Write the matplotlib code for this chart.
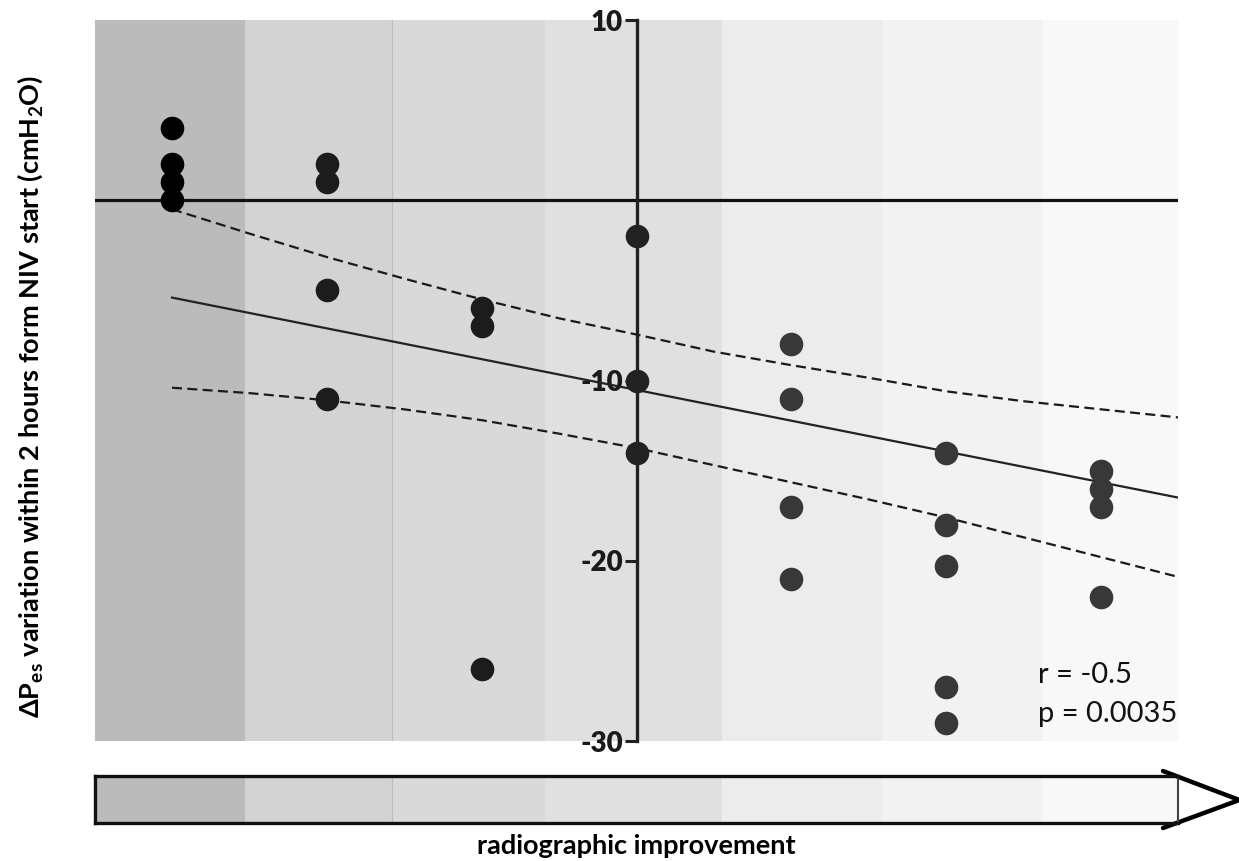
import matplotlib

matplotlib.use("Agg")
import matplotlib.pyplot as plt

plt.rcParams["font.family"] = ["Lato", "DejaVu Sans"]
plt.rcParams["mathtext.fontset"] = "custom"
plt.rcParams["mathtext.rm"] = "Lato:bold"
plt.rcParams["mathtext.it"] = "Lato:bold"
plt.rcParams["mathtext.bf"] = "Lato:bold"

# radiographic improvement groups (x) and delta Pes values
GROUPS = [1, 2, 3, 4, 5, 6, 7]
GROUP_VALUES = [
    [4.0, 2.0, 1.0, 0.0],
    [2.0, 1.0, -5.0, -11.0],
    [-6.0, -7.0, -26.0],
    [-2.0, -10.0, -14.0],
    [-8.0, -11.0, -17.0, -21.0],
    [-14.0, -18.0, -20.3, -27.0, -29.0],
    [-15.0, -16.0, -17.0, -22.0],
]
GROUP_COLORS = ["#000000", "#1c1c1c", "#1c1c1c", "#222222", "#383838", "#383838", "#383838"]

# regression line and its confidence band (as drawn)
FIT_X = [1.0, 7.5]
FIT_Y = [-5.4, -16.5]
BAND_X = [1.0, 1.5, 2.0, 2.5, 3.0, 3.5, 4.0, 4.5, 5.0, 5.5, 6.0, 6.5, 7.0, 7.5]
BAND_UPPER = [-0.5, -1.85, -3.15, -4.35, -5.5, -6.55, -7.45, -8.4, -9.15, -9.85, -10.6, -11.15, -11.6, -12.05]
BAND_LOWER = [-10.4, -10.7, -11.1, -11.6, -12.2, -12.95, -13.75, -14.7, -15.65, -16.6, -17.6, -18.7, -19.8, -20.9]

# background shading columns
SHADE_EDGES = [0.5, 1.472, 2.421, 3.410, 4.553, 5.587, 6.620, 7.5]
SHADE_COLORS = ["#bbbbbb", "#d3d3d3", "#d9d9d9", "#e0e0e0", "#ececec", "#f2f2f2", "#f8f8f8"]

Y_TICKS = [10, -10, -20, -30]
STATS_TEXT = ["r = -0.5", "p = 0.0035"]

YLABEL = r"ΔP$_{\rm es}$ variation within 2 hours form NIV start (cmH$_{\rm 2}$O)"
XLABEL = "radiographic improvement"


def _shade(ax):
    for left, right, color in zip(SHADE_EDGES[:-1], SHADE_EDGES[1:], SHADE_COLORS):
        ax.axvspan(left, right, color=color, lw=0, zorder=0)
    ax.axvline(SHADE_EDGES[2], color="#bdbdbd", lw=0.8, zorder=0.5)


def main() -> None:
    fig = plt.figure(figsize=(12.39, 8.61), dpi=100)
    ax = fig.add_axes([0.07635, 0.13937, 0.87482, 0.83740])
    ax.set_xlim(0.5, 7.5)
    ax.set_ylim(-30, 10)
    _shade(ax)

    ax.axhline(0, color="#111111", lw=2.3, zorder=2)
    ax.plot(FIT_X, FIT_Y, color="#222222", lw=1.6, zorder=3)
    for ys in (BAND_UPPER, BAND_LOWER):
        ax.plot(BAND_X, ys, color="#1a1a1a", lw=1.6, dashes=(4.5, 2.4), zorder=3)

    for x, vals, color in zip(GROUPS, GROUP_VALUES, GROUP_COLORS):
        ax.plot([x] * len(vals), vals, "o", ms=17, color=color, mew=0, zorder=5)

    for side in ("top", "right", "bottom"):
        ax.spines[side].set_visible(False)
    ax.spines["left"].set_position(("data", 4))
    ax.spines["left"].set_color("#222222")
    ax.spines["left"].set_linewidth(2.4)
    ax.set_xticks([])
    ax.set_yticks(Y_TICKS)
    ax.tick_params(axis="y", length=9, width=2.2, color="#222222", pad=1)
    ax.yaxis.set_major_formatter(matplotlib.ticker.FuncFormatter(lambda v, _: f"{v:.0f}"))
    for tick in ax.yaxis.get_major_ticks():
        tick.label1.set_fontweight("heavy")
        tick.label1.set_fontsize(20)
        tick.label1.set_color("#1a1a1a")

    ax.text(0.8704, 0.0804, STATS_TEXT[0], transform=ax.transAxes, fontsize=21, va="baseline", color="#111111")
    ax.text(0.8704, 0.0264, STATS_TEXT[1], transform=ax.transAxes, fontsize=21, va="baseline", color="#111111")

    # bottom gradient bar with open arrow head
    bar = fig.add_axes([0.07635, 0.0441, 0.87482, 0.0546])
    bar.set_xlim(0.5, 7.5)
    bar.set_ylim(0, 1)
    _shade(bar)
    bar.set_xticks([])
    bar.set_yticks([])
    for side in ("top", "bottom", "left"):
        bar.spines[side].set_linewidth(2.4)
        bar.spines[side].set_color("#111111")
    bar.spines["right"].set_linewidth(1.5)
    bar.spines["right"].set_color("#444444")
    bar.plot([7.40, 7.893, 7.40], [1.106, 0.49, -0.106], color="#000000", lw=3.2,
             solid_capstyle="round", solid_joinstyle="miter", clip_on=False)

    fig.text(0.5137, 0.017, XLABEL, ha="center", va="center", fontsize=19.5, fontweight="bold")
    fig.text(0.0242, 0.539, YLABEL, rotation=90, ha="center", va="center", fontsize=19.5, fontweight="bold")

    fig.savefig("out.png", dpi=100)
    plt.close(fig)


if __name__ == "__main__":
    main()
